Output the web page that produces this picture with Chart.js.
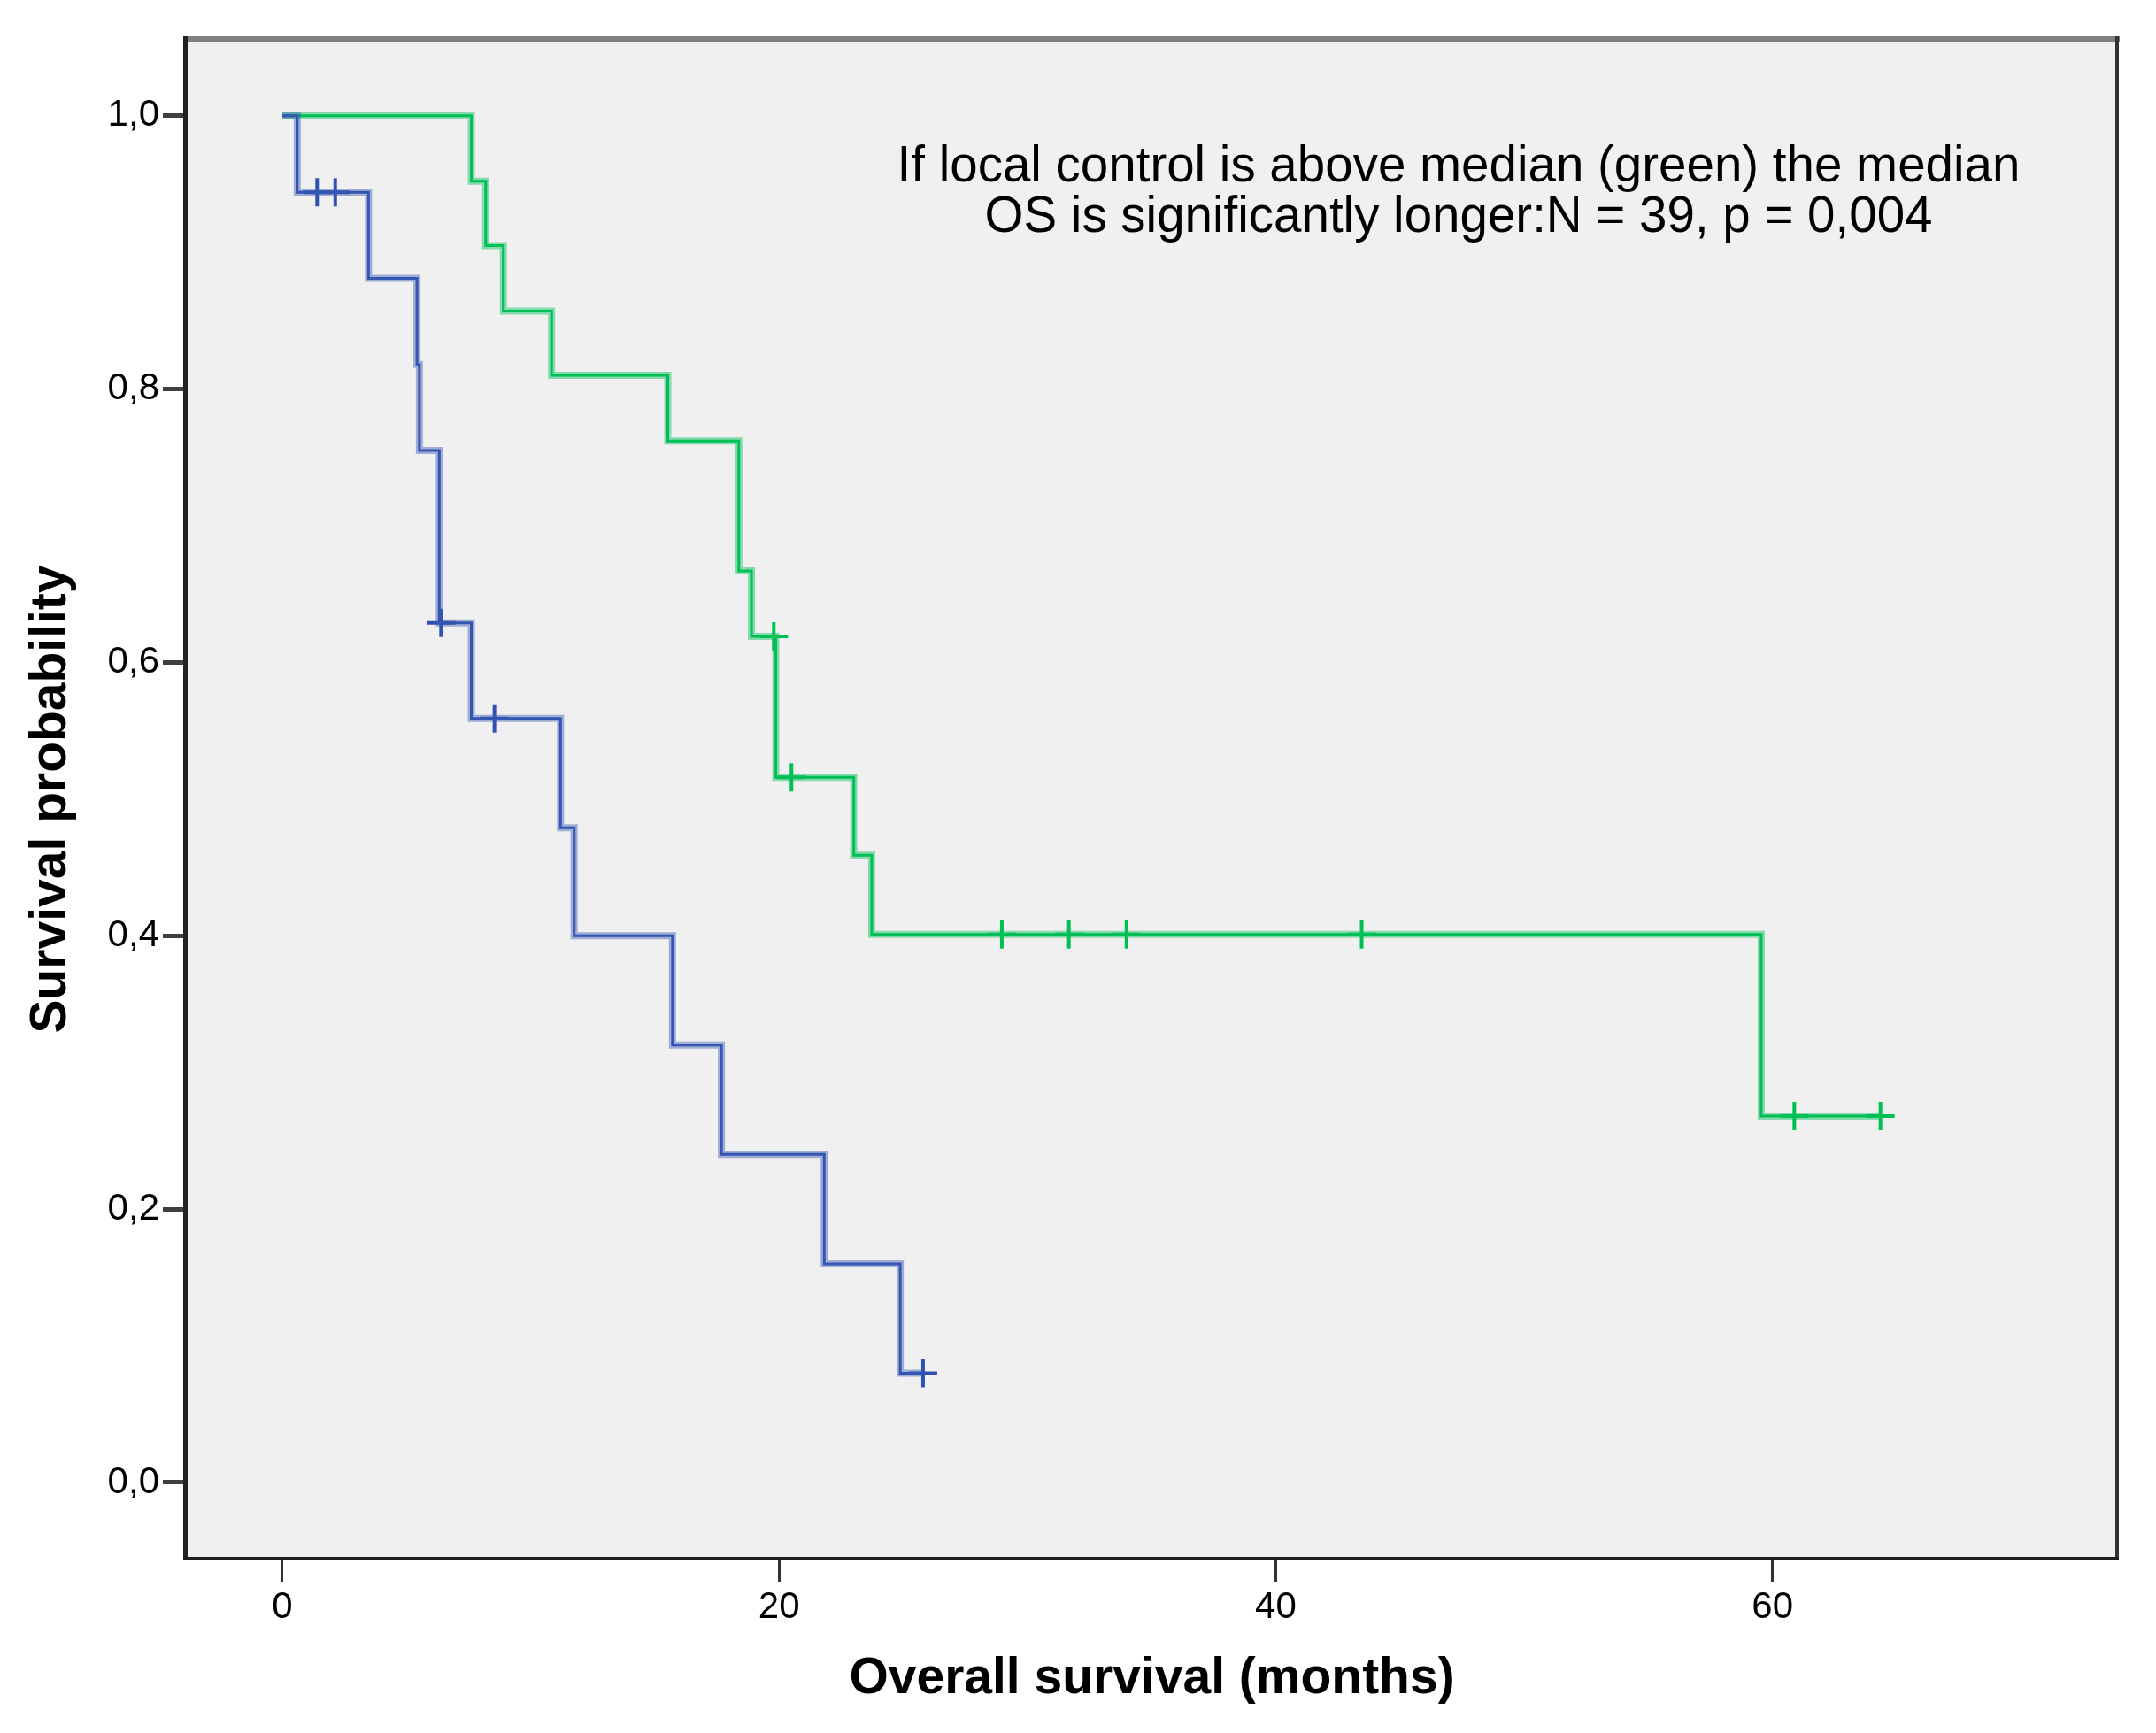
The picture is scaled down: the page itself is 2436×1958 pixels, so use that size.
<!DOCTYPE html>
<html>
<head>
<meta charset="utf-8">
<script src="https://cdn.jsdelivr.net/npm/chart.js@4.4.1/dist/chart.umd.min.js"></script>
<style>
  html, body { margin: 0; padding: 0; background: #fff; }
  canvas { display: block; }
</style>
</head>
<body>
<canvas id="kmChart" width="2436" height="1958"></canvas>
<script>
// Kaplan-Meier steps: time (months) of each drop and survival after it
const blueTimes = [0, 0.60, 3.47, 5.42, 5.52, 6.32, 7.61, 11.20, 11.75, 15.71, 17.68, 21.82, 24.88, 25.80];
const blueSurv  = [1.0, 0.944, 0.881, 0.818, 0.755, 0.629, 0.559, 0.479, 0.400, 0.320, 0.240, 0.160, 0.080, 0.080];
const blueCensorTimes = [1.40, 2.13, 6.39, 8.54, 25.80];
const blueCensorSurv  = [0.944, 0.944, 0.629, 0.559, 0.080];

const greenTimes = [0, 7.61, 8.19, 8.90, 10.84, 15.52, 18.38, 18.89, 19.87, 23.01, 23.73, 59.55, 64.35];
const greenSurv  = [1.0, 0.952, 0.905, 0.857, 0.810, 0.762, 0.667, 0.619, 0.516, 0.459, 0.401, 0.268, 0.268];
const greenCensorTimes = [19.79, 20.50, 28.97, 31.67, 33.99, 43.46, 60.88, 64.35];
const greenCensorSurv  = [0.619, 0.516, 0.401, 0.401, 0.401, 0.401, 0.268, 0.268];

const xTicks = [0, 20, 40, 60];
const yTicks = [0, 0.2, 0.4, 0.6, 0.8, 1.0];
const yTickLabels = ['0,0', '0,2', '0,4', '0,6', '0,8', '1,0'];
const noteLines = ['If local control is above median (green) the median', 'OS is significantly longer:N = 39, p = 0,004'];

const FONT = "'Liberation Sans', Arial, sans-serif";

function pts(xs, ys) {
  return xs.map((x, i) => ({ x: x, y: ys[i] }));
}

// grey plot panel, SPSS style frame and the note text
const panelPlugin = {
  id: 'panel',
  beforeDraw(chart) {
    const { ctx, chartArea: a } = chart;
    ctx.save();
    ctx.fillStyle = '#f0f0f0';
    ctx.fillRect(a.left, a.top, a.right - a.left, a.bottom - a.top);
    ctx.restore();
  },
  afterDraw(chart) {
    const { ctx, chartArea: a } = chart;
    ctx.save();
    ctx.lineCap = 'butt';
    ctx.strokeStyle = '#7f7f7f';
    ctx.lineWidth = 6;
    ctx.beginPath(); ctx.moveTo(a.left - 5, a.top - 3); ctx.lineTo(a.right + 4, a.top - 3); ctx.stroke();
    ctx.strokeStyle = '#222';
    ctx.lineWidth = 5;
    ctx.beginPath(); ctx.moveTo(a.left - 2.5, a.top - 6); ctx.lineTo(a.left - 2.5, a.bottom + 4); ctx.stroke();
    ctx.lineWidth = 4;
    ctx.strokeStyle = '#333';
    ctx.beginPath(); ctx.moveTo(a.right + 1, a.top - 6); ctx.lineTo(a.right + 1, a.bottom + 4); ctx.stroke();
    ctx.strokeStyle = '#1e1e1e';
    ctx.beginPath(); ctx.moveTo(a.left - 5, a.bottom + 2); ctx.lineTo(a.right + 3, a.bottom + 2); ctx.stroke();

    ctx.fillStyle = '#000';
    ctx.font = '56.5px ' + FONT;
    ctx.textAlign = 'center';
    ctx.textBaseline = 'alphabetic';
    noteLines.forEach((t, i) => ctx.fillText(t, 1648, 205 + i * 57));
    ctx.restore();
  }
};

const ctx = document.getElementById('kmChart');
const kmChart = new Chart(ctx, {
  type: 'line',
  data: {
    datasets: [
      { data: pts(blueTimes, blueSurv), stepped: true, borderColor: 'rgba(60,90,180,0.45)', borderWidth: 8, pointRadius: 0 },
      { data: pts(blueTimes, blueSurv), stepped: true, borderColor: '#2f52b2', borderWidth: 3, pointRadius: 0 },
      { data: pts(blueCensorTimes, blueCensorSurv), showLine: false, pointStyle: 'cross', pointRadius: 16,
        borderColor: '#2f52b2', borderWidth: 4 },
      { data: pts(greenTimes, greenSurv), stepped: true, borderColor: 'rgba(0,190,90,0.45)', borderWidth: 8, pointRadius: 0 },
      { data: pts(greenTimes, greenSurv), stepped: true, borderColor: '#00c050', borderWidth: 3, pointRadius: 0 },
      { data: pts(greenCensorTimes, greenCensorSurv), showLine: false, pointStyle: 'cross', pointRadius: 16,
        borderColor: '#00c050', borderWidth: 4 }
    ]
  },
  options: {
    responsive: false,
    devicePixelRatio: 1,
    animation: false,
    layout: { padding: { top: 47, right: 45, left: 0, bottom: 0 } },
    plugins: { legend: { display: false }, tooltip: { enabled: false } },
    scales: {
      x: {
        type: 'linear',
        min: -3.813,
        max: 73.84,
        afterFit: s => { s.height = 199; },
        afterBuildTicks: s => { s.ticks = xTicks.map(v => ({ value: v })); },
        grid: { drawOnChartArea: false, drawTicks: true, tickLength: 28, color: '#333', lineWidth: 3 },
        border: { display: false },
        ticks: { color: '#000', padding: 4, font: { family: FONT, size: 42 }, maxRotation: 0 },
        title: { display: true, text: 'Overall survival (months)', color: '#000',
                 font: { family: FONT, size: 57, weight: 'bold' }, padding: { top: 0, bottom: 27 } }
      },
      y: {
        type: 'linear',
        min: -0.0544,
        max: 1.0542,
        afterFit: s => { s.width = 212; },
        afterBuildTicks: s => { s.ticks = yTicks.map(v => ({ value: v })); },
        grid: { drawOnChartArea: false, drawTicks: true, tickLength: 28, color: '#404040', lineWidth: 5 },
        border: { display: false },
        ticks: {
          color: '#000', padding: 4, font: { family: FONT, size: 42 },
          callback: v => yTickLabels[yTicks.findIndex(t => Math.abs(t - v) < 1e-6)]
        },
        title: { display: true, text: 'Survival probability', color: '#000',
                 font: { family: FONT, size: 57, weight: 'bold' }, padding: { top: 24, bottom: 0 } }
      }
    }
  },
  plugins: [panelPlugin]
});
</script>
</body>
</html>
